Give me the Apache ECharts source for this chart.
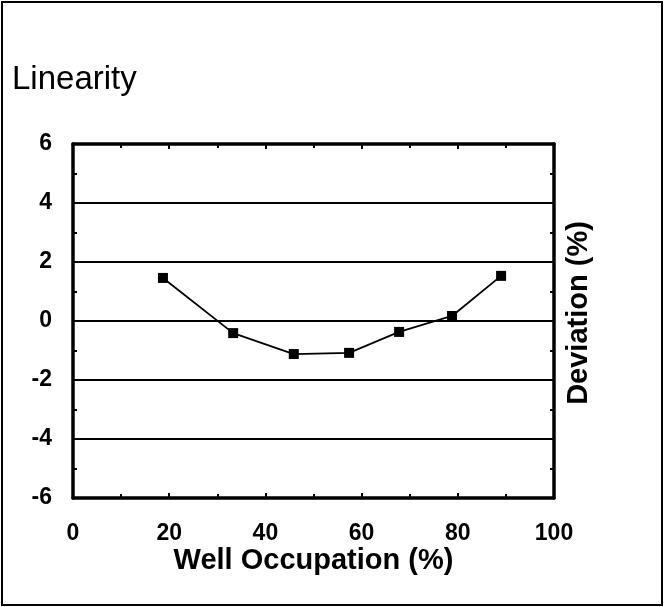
<!DOCTYPE html>
<html>
<head>
<meta charset="utf-8">
<title>Linearity</title>
<script src="https://cdn.jsdelivr.net/npm/echarts@6/dist/echarts.min.js"></script>
<style>
  html, body { margin: 0; padding: 0; background: #fff; }
  #chart { width: 665px; height: 607px; }
</style>
</head>
<body>
<div id="chart"></div>
<script>
// well occupation (%) and deviation (%)
const occupation = [18.7, 33.3, 45.9, 57.4, 67.8, 78.8, 89.0];
const deviation = [1.46, -0.41, -1.12, -1.08, -0.37, 0.17, 1.53];
const xTicks = [0, 20, 40, 60, 80, 100];
const yTicks = [-6, -4, -2, 0, 2, 4, 6];

const chartDom = document.getElementById("chart");
const myChart = echarts.init(chartDom);

const labelFont = { fontFamily: "Liberation Sans", fontWeight: "bold", fontSize: 23, color: "#000" };
const nameFont = { fontFamily: "Liberation Sans", fontWeight: "bold", fontSize: 29, color: "#000" };
const tick = { show: true, inside: true, length: 5, lineStyle: { color: "#000", width: 2 } };
const minor = { show: true, splitNumber: 2, length: 4, lineStyle: { color: "#000", width: 2 } };
const line = { show: true, onZero: false, lineStyle: { color: "#000", width: 3.5 } };

const points = occupation.map((x, i) => [x, deviation[i]]);

let option = {
  backgroundColor: "#fff",
  animation: false,
  title: {
    text: "Linearity",
    left: 7,
    top: 58,
    textStyle: { fontFamily: "Liberation Sans", fontWeight: "normal", fontSize: 33, color: "#000" }
  },
  graphic: [
    {
      type: "rect",
      shape: { x: 2, y: 2, width: 660, height: 603 },
      style: { fill: "none", stroke: "#000", lineWidth: 2 },
      silent: true
    }
  ],
  grid: { left: 73, right: 111, top: 144, bottom: 109, containLabel: false },
  xAxis: [
    {
      type: "value",
      position: "bottom",
      min: xTicks[0],
      max: xTicks[xTicks.length - 1],
      interval: 20,
      axisLine: line,
      axisTick: tick,
      minorTick: minor,
      splitLine: { show: false },
      axisLabel: Object.assign({ margin: 24 }, labelFont),
      name: "Well Occupation (%)",
      nameLocation: "middle",
      nameGap: 48,
      nameMoveOverlap: false,
      nameTextStyle: nameFont
    },
    {
      type: "value",
      position: "top",
      min: xTicks[0],
      max: xTicks[xTicks.length - 1],
      interval: 20,
      axisLine: line,
      axisTick: tick,
      minorTick: minor,
      splitLine: { show: false },
      axisLabel: { show: false }
    }
  ],
  yAxis: [
    {
      type: "value",
      position: "left",
      min: yTicks[0],
      max: yTicks[yTicks.length - 1],
      interval: 2,
      axisLine: line,
      axisTick: tick,
      minorTick: minor,
      splitLine: { show: true, lineStyle: { color: "#000", width: 2 } },
      axisLabel: Object.assign({ margin: 21 }, labelFont)
    },
    {
      type: "value",
      position: "right",
      min: yTicks[0],
      max: yTicks[yTicks.length - 1],
      interval: 2,
      axisLine: line,
      axisTick: tick,
      minorTick: minor,
      splitLine: { show: false },
      axisLabel: { show: false },
      name: "Deviation (%)",
      nameLocation: "middle",
      nameRotate: 90,
      nameGap: 10,
      nameTextStyle: Object.assign({ padding: [0, 0, 0, 16] }, nameFont)
    }
  ],
  series: [
    {
      type: "line",
      data: points,
      symbol: "rect",
      symbolSize: 10,
      itemStyle: { color: "#000" },
      lineStyle: { color: "#000", width: 1.8 }
    }
  ]
};

option && myChart.setOption(option);
</script>
</body>
</html>
